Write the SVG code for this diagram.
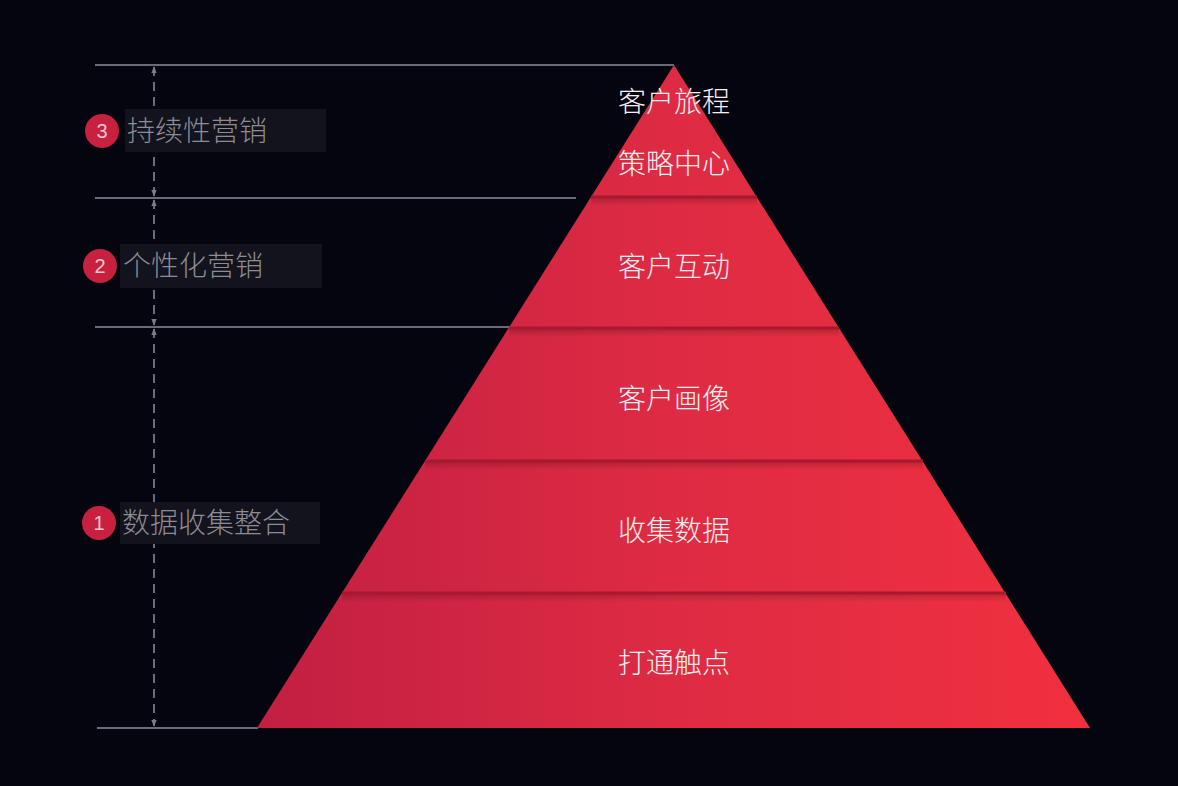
<svg xmlns="http://www.w3.org/2000/svg" width="1178" height="786" viewBox="0 0 1178 786">
<defs>
<linearGradient id="red" x1="257" y1="0" x2="1090" y2="0" gradientUnits="userSpaceOnUse">
<stop offset="0" stop-color="#c21f42"/>
<stop offset="0.5" stop-color="#de2b43"/>
<stop offset="1" stop-color="#f1303f"/>
</linearGradient>
<linearGradient id="shade" x1="0" y1="0" x2="0" y2="1">
<stop offset="0" stop-color="#000" stop-opacity="0.18"/>
<stop offset="1" stop-color="#000" stop-opacity="0"/>
</linearGradient>
<marker id="ah" viewBox="0 0 10 10" refX="9" refY="5" markerWidth="7" markerHeight="7" orient="auto-start-reverse" markerUnits="userSpaceOnUse">
<path d="M0,1 L10,5 L0,9 z" fill="#7c7c86"/>
</marker>
<style>
.guide{stroke:#6a6b78;stroke-width:2;fill:none}
.dash{stroke:#6c6c78;stroke-width:2;stroke-dasharray:9,6;fill:none}
.badge{fill:#c8203f}
.badgeT{font-family:"Liberation Sans",Arial,sans-serif;font-size:20px;fill:#f0c8d0;text-anchor:middle}
.box{fill:#13131d}
.lbl{font-family:"Noto Sans CJK SC","Noto Sans",sans-serif;font-size:28px;font-weight:300;fill:#8c8c94}
.tier{font-family:"Noto Sans CJK SC","Noto Sans",sans-serif;font-size:28px;font-weight:300;fill:#fbeef0;text-anchor:middle}
.sep{stroke:#a8182e;stroke-width:3}
</style>
</defs>
<rect width="1178" height="786" fill="#05050f"/>

<g id="connectors">
<line class="guide" x1="95" y1="65" x2="674" y2="65"/>
<line class="guide" x1="95" y1="198" x2="576" y2="198"/>
<line class="guide" x1="95" y1="327" x2="510" y2="327"/>
<line class="guide" x1="97" y1="728" x2="258" y2="728"/>
<line class="dash" x1="154" y1="67" x2="154" y2="196" marker-start="url(#ah)" marker-end="url(#ah)"/>
<line class="dash" x1="154" y1="200" x2="154" y2="325" marker-start="url(#ah)" marker-end="url(#ah)"/>
<line class="dash" x1="154" y1="329" x2="154" y2="726" marker-start="url(#ah)" marker-end="url(#ah)"/>
</g>

<g id="pyramid">
<polygon points="674,65 1090,728 257,728" fill="url(#red)"/>
</g>
<g id="tier-lines">
<rect x="591" y="198" width="166" height="8" fill="url(#shade)"/>
<rect x="509" y="329" width="330" height="8" fill="url(#shade)"/>
<rect x="425" y="462" width="498" height="8" fill="url(#shade)"/>
<rect x="342" y="594" width="664" height="8" fill="url(#shade)"/>
<line class="sep" x1="591" y1="197" x2="757" y2="197"/>
<line class="sep" x1="509" y1="328" x2="839" y2="328"/>
<line class="sep" x1="425" y1="461" x2="923" y2="461"/>
<line class="sep" x1="342" y1="593" x2="1006" y2="593"/>
</g>

<g id="tier-top">
<text class="tier" x="674" y="112">客户旅程</text>
<text class="tier" x="674" y="174">策略中心</text>
</g>
<g id="tier-interact"><text class="tier" x="674" y="277">客户互动</text></g>
<g id="tier-profile"><text class="tier" x="674" y="409">客户画像</text></g>
<g id="tier-collect"><text class="tier" x="674" y="541">收集数据</text></g>
<g id="tier-touch"><text class="tier" x="674" y="673">打通触点</text></g>

<g id="label-3">
<rect class="box" x="125" y="109" width="201" height="43"/>
<circle class="badge" cx="102" cy="131" r="17"/>
<text class="badgeT" x="102" y="138">3</text>
<text class="lbl" x="127" y="141">持续性营销</text>
</g>
<g id="label-2">
<rect class="box" x="120" y="244" width="202" height="44"/>
<circle class="badge" cx="100" cy="266" r="17"/>
<text class="badgeT" x="100" y="273">2</text>
<text class="lbl" x="123" y="276">个性化营销</text>
</g>
<g id="label-1">
<rect class="box" x="120" y="502" width="200" height="42"/>
<circle class="badge" cx="99" cy="523" r="17"/>
<text class="badgeT" x="99" y="530">1</text>
<text class="lbl" x="122" y="533">数据收集整合</text>
</g>
</svg>
